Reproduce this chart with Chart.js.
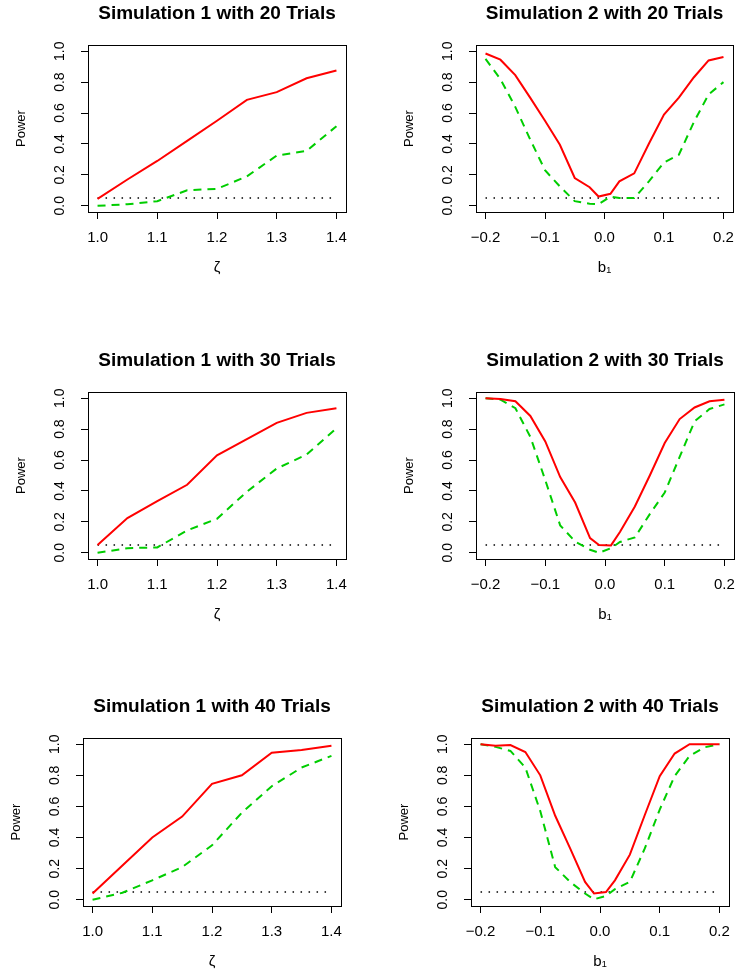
<!DOCTYPE html>
<html>
<head>
<meta charset="utf-8">
<script src="https://cdn.jsdelivr.net/npm/chart.js@4.4.1/dist/chart.umd.min.js"></script>
<style>
  html, body { margin: 0; padding: 0; background: #fff; overflow: hidden; width: 735px; height: 972px; }
  canvas { position: absolute; }
</style>
</head>
<body>
<script>
// x values
const zeta = [1.0, 1.05, 1.1, 1.15, 1.2, 1.25, 1.3, 1.35, 1.4];
const b1 = [-0.2, -0.175, -0.15, -0.125, -0.1, -0.075, -0.05, -0.025, -0.01,
            0.01, 0.025, 0.05, 0.075, 0.1, 0.125, 0.15, 0.175, 0.2];
const yTicks = [0, 0.2, 0.4, 0.6, 0.8, 1.0];
const nominalLevel = 0.05;

// simulation 1 (red solid / green dashed)
const sim1Solid20 = [0.045, 0.17, 0.29, 0.42, 0.55, 0.685, 0.735, 0.825, 0.875];
const sim1Dashed20 = [0.0, 0.01, 0.03, 0.10, 0.11, 0.19, 0.325, 0.355, 0.515];
const sim1Solid30 = [0.05, 0.225, 0.335, 0.44, 0.63, 0.735, 0.84, 0.905, 0.935];
const sim1Dashed30 = [0.0, 0.03, 0.035, 0.145, 0.22, 0.395, 0.545, 0.635, 0.805];
const sim1Solid40 = [0.04, 0.22, 0.40, 0.535, 0.745, 0.80, 0.945, 0.963, 0.99];
const sim1Dashed40 = [0.0, 0.045, 0.125, 0.21, 0.35, 0.56, 0.73, 0.85, 0.925];

// simulation 2
const sim2Solid20 = [0.985, 0.945, 0.845, 0.70, 0.55, 0.395, 0.18, 0.12, 0.06,
                     0.078, 0.158, 0.21, 0.405, 0.59, 0.70, 0.83, 0.94, 0.963];
const sim2Dashed20 = [0.95, 0.82, 0.64, 0.43, 0.23, 0.125, 0.03, 0.013, 0.01,
                      0.06, 0.05, 0.05, 0.16, 0.28, 0.33, 0.54, 0.72, 0.80];
const sim2Solid30 = [1.0, 0.995, 0.98, 0.885, 0.72, 0.49, 0.325, 0.095, 0.05,
                     0.048, 0.135, 0.30, 0.50, 0.71, 0.865, 0.94, 0.98, 0.99];
const sim2Dashed30 = [1.0, 0.99, 0.935, 0.75, 0.47, 0.177, 0.073, 0.02, 0.0,
                      0.03, 0.07, 0.10, 0.25, 0.39, 0.62, 0.85, 0.93, 0.96];
const sim2Solid40 = [1.0, 0.99, 0.995, 0.95, 0.80, 0.54, 0.33, 0.115, 0.04,
                     0.05, 0.125, 0.29, 0.545, 0.795, 0.94, 1.0, 1.0, 1.0];
const sim2Dashed40 = [1.0, 0.983, 0.957, 0.85, 0.57, 0.21, 0.115, 0.04, 0.003,
                      0.025, 0.068, 0.115, 0.33, 0.58, 0.795, 0.925, 0.98, 1.0];

Chart.defaults.font.family = '"Liberation Sans", Arial, Helvetica, sans-serif';
Chart.defaults.color = '#000';

// R style box around the plot region
const framePlugin = {
    id: 'frame',
    afterDraw(chart) {
        const a = chart.chartArea;
        const ctx = chart.ctx;
        ctx.save();
        ctx.strokeStyle = '#000';
        ctx.lineWidth = 1;
        ctx.strokeRect(a.left + 0.5, a.top + 0.5, a.right - a.left, a.bottom - a.top);
        ctx.restore();
    }
};

const fmt = v => (v < -1e-9 ? '\u2212' : '') + Math.abs(v).toFixed(1);

// padded ranges like R's xaxs="r"
function padRange(lo, hi) {
    const d = (hi - lo) * 0.04;
    return [lo - d, hi + d];
}

const panels = [
    { title: 'Simulation 1 with 20 Trials', xs: zeta, solid: sim1Solid20, dashed: sim1Dashed20, xTitle: '\u03b6', step: 0.1, L: 88, T: 45, W: 258, H: 167 },
    { title: 'Simulation 2 with 20 Trials', xs: b1, solid: sim2Solid20, dashed: sim2Dashed20, xTitle: 'b\u2081', step: 0.1, L: 476, T: 45, W: 257, H: 167 },
    { title: 'Simulation 1 with 30 Trials', xs: zeta, solid: sim1Solid30, dashed: sim1Dashed30, xTitle: '\u03b6', step: 0.1, L: 88, T: 392, W: 258, H: 167 },
    { title: 'Simulation 2 with 30 Trials', xs: b1, solid: sim2Solid30, dashed: sim2Dashed30, xTitle: 'b\u2081', step: 0.1, L: 476, T: 392, W: 258, H: 167 },
    { title: 'Simulation 1 with 40 Trials', xs: zeta, solid: sim1Solid40, dashed: sim1Dashed40, xTitle: '\u03b6', step: 0.1, L: 83, T: 738, W: 258, H: 168 },
    { title: 'Simulation 2 with 40 Trials', xs: b1, solid: sim2Solid40, dashed: sim2Dashed40, xTitle: 'b\u2081', step: 0.1, L: 471, T: 738, W: 258, H: 168 }
];

function makePanel(p) {
    const canvas = document.createElement('canvas');
    canvas.width = 88 + p.W + 16;
    canvas.height = 45 + p.H + 75;
    canvas.style.left = (p.L - 88) + 'px';
    canvas.style.top = (p.T - 45) + 'px';
    document.body.appendChild(canvas);

    const pts = (xs, ys) => xs.map((x, i) => ({ x: x, y: ys[i] }));
    const first = p.xs[0], last = p.xs[p.xs.length - 1];
    const [xMin, xMax] = padRange(first, last);
    const [yMin, yMax] = padRange(yTicks[0], yTicks[yTicks.length - 1]);

    new Chart(canvas, {
        type: 'line',
        data: {
            datasets: [
                { data: pts(p.xs, p.solid), borderColor: '#ff0000', borderWidth: 2 },
                { data: pts(p.xs, p.dashed), borderColor: '#00cd00', borderWidth: 2, borderDash: [8, 6] },
                { data: pts([first, last], [nominalLevel, nominalLevel]), borderColor: '#000', borderWidth: 1.5, borderDash: [1.5, 6.5] }
            ]
        },
        options: {
            responsive: false,
            animation: false,
            devicePixelRatio: 1,
            layout: { padding: { left: 0, top: 0, right: 16, bottom: 0 } },
            elements: { point: { radius: 0 }, line: { tension: 0, fill: false } },
            plugins: {
                legend: { display: false },
                tooltip: { enabled: false },
                title: {
                    display: true, text: p.title, fullSize: false, color: '#000',
                    font: { size: 19, weight: 'bold' },
                    padding: { top: 2.8, bottom: 19.4 }
                }
            },
            scales: {
                x: {
                    type: 'linear', min: xMin, max: xMax,
                    afterFit: s => { s.height = 75; },
                    border: { display: false },
                    grid: { drawOnChartArea: false, drawTicks: true, tickLength: 7, color: '#000' },
                    ticks: { stepSize: p.step, autoSkip: false, includeBounds: false, padding: 9.5,
                             maxRotation: 0, font: { size: 15 }, color: '#000', callback: fmt },
                    title: { display: true, text: p.xTitle, font: { size: 15 }, color: '#000',
                             padding: { top: 0, bottom: 10.5 } }
                },
                y: {
                    type: 'linear', min: yMin, max: yMax,
                    afterFit: s => { s.width = 88; },
                    border: { display: false },
                    grid: { drawOnChartArea: false, drawTicks: true, tickLength: 7, color: '#000' },
                    ticks: { stepSize: 0.2, autoSkip: false, includeBounds: false, padding: 10.75,
                             minRotation: 90, maxRotation: 90, crossAlign: 'center',
                             font: { size: 14 }, color: '#000', callback: fmt },
                    title: { display: true, text: 'Power', font: { size: 13 }, color: '#000',
                             padding: { top: 13.2, bottom: 0 } }
                }
            }
        },
        plugins: [framePlugin]
    });
}

panels.forEach(makePanel);
</script>
</body>
</html>
